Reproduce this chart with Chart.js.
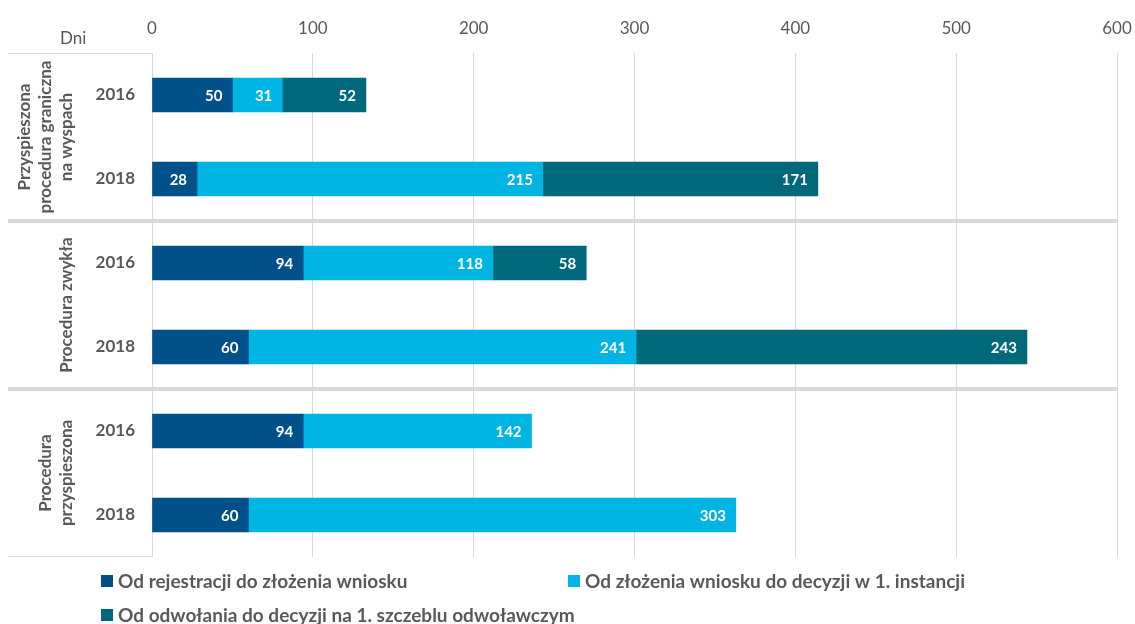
<!DOCTYPE html>
<html lang="pl">
<head>
<meta charset="utf-8">
<title>Czas trwania procedur (dni)</title>
<script src="https://cdn.jsdelivr.net/npm/chart.js@4.4.1/dist/chart.umd.min.js"></script>
<style>
  html, body { margin: 0; padding: 0; background: #ffffff; }
  #wrap { width: 1135px; height: 624px; position: relative; }
</style>
</head>
<body>
<div id="wrap"><canvas id="chart" width="1135" height="624"></canvas></div>
<script>
// Years shown for each bar, top to bottom
const years = ['2016', '2018', '2016', '2018', '2016', '2018'];

// Procedure groups (two bars each), lines of the rotated group labels
const groupLabels = [
  ['Przyspieszona', 'procedura graniczna', 'na wyspach'],
  ['Procedura zwykła'],
  ['Procedura', 'przyspieszona']
];

// Series (days)
const seriesNames = [
  'Od rejestracji do złożenia wniosku',
  'Od złożenia wniosku do decyzji w 1. instancji',
  'Od odwołania do decyzji na 1. szczeblu odwoławczym'
];
const registrationToApplication = [50, 28, 94, 60, 94, 60];
const applicationToDecision = [31, 215, 118, 241, 142, 303];
const appealToDecision = [52, 171, 58, 243, null, null];

// Axis ticks
const xTicks = [0, 100, 200, 300, 400, 500, 600];
const axisTitle = 'Dni';

const colors = ['#00518a', '#00b4e3', '#00687b'];
const textGrey = '#595959';
const lineGrey = '#d9d9d9';
const FONT = 'Lato, "Open Sans", sans-serif';

// White value labels at the right end of each segment
const valueLabels = {
  id: 'valueLabels',
  afterDatasetsDraw(chart) {
    const ctx = chart.ctx;
    ctx.save();
    ctx.font = 'bold 15px ' + FONT;
    ctx.fillStyle = '#ffffff';
    ctx.textAlign = 'right';
    ctx.textBaseline = 'middle';
    chart.data.datasets.forEach((ds, di) => {
      const meta = chart.getDatasetMeta(di);
      meta.data.forEach((bar, i) => {
        const v = ds.data[i];
        if (v === null || v === undefined) return;
        ctx.fillText(String(v), bar.x - 10, bar.y + 1);
      });
    });
    ctx.restore();
  }
};

// Group separators, category box lines, rotated group names, axis title, legend
const decorations = {
  id: 'decorations',
  beforeDatasetsDraw(chart) {
    const { ctx, chartArea } = chart;
    const y = chart.scales.y;
    const left = 8;
    ctx.save();
    // box lines of the category area
    ctx.strokeStyle = lineGrey;
    ctx.lineWidth = 1;
    ctx.beginPath();
    ctx.moveTo(left, chartArea.top + 0.5);
    ctx.lineTo(chartArea.left, chartArea.top + 0.5);
    ctx.moveTo(left, chartArea.bottom - 0.5);
    ctx.lineTo(chartArea.left, chartArea.bottom - 0.5);
    ctx.stroke();
    // thick separators between groups
    ctx.lineWidth = 4;
    for (let g = 1; g < groupLabels.length; g++) {
      const yy = (y.getPixelForValue(g * 2 - 1) + y.getPixelForValue(g * 2)) / 2;
      ctx.beginPath();
      ctx.moveTo(left, yy);
      ctx.lineTo(chartArea.right, yy);
      ctx.stroke();
    }
    ctx.restore();
  },
  afterDraw(chart) {
    const { ctx } = chart;
    const y = chart.scales.y;
    ctx.save();
    // rotated group names
    ctx.fillStyle = textGrey;
    ctx.font = 'bold 17px ' + FONT;
    ctx.textAlign = 'center';
    ctx.textBaseline = 'middle';
    const lineStep = 21;
    const lastX = 67;
    groupLabels.forEach((lines, g) => {
      const cy = (y.getPixelForValue(g * 2) + y.getPixelForValue(g * 2 + 1)) / 2;
      lines.forEach((txt, k) => {
        const x = lastX - (lines.length - 1 - k) * lineStep;
        ctx.save();
        ctx.translate(x, cy);
        ctx.rotate(-Math.PI / 2);
        ctx.fillText(txt, 0, 0);
        ctx.restore();
      });
    });
    // axis title
    ctx.font = '17px ' + FONT;
    ctx.textAlign = 'left';
    ctx.fillText(axisTitle, 60, 39);
    // legend
    ctx.font = 'bold 19px ' + FONT;
    const items = [
      { x: 101, y: 581 },
      { x: 568, y: 581 },
      { x: 101, y: 615 }
    ];
    chart.data.datasets.forEach((ds, i) => {
      const it = items[i];
      ctx.fillStyle = ds.backgroundColor;
      ctx.fillRect(it.x, it.y - 6, 12, 12);
      ctx.fillStyle = textGrey;
      ctx.textAlign = 'left';
      ctx.fillText(ds.label, it.x + 17, it.y + 1);
    });
    ctx.restore();
  }
};

new Chart(document.getElementById('chart'), {
  type: 'bar',
  data: {
    labels: years,
    datasets: [
      { label: seriesNames[0], data: registrationToApplication, backgroundColor: colors[0] },
      { label: seriesNames[1], data: applicationToDecision, backgroundColor: colors[1] },
      { label: seriesNames[2], data: appealToDecision, backgroundColor: colors[2] }
    ]
  },
  options: {
    indexAxis: 'y',
    responsive: false,
    animation: false,
    maintainAspectRatio: false,
    datasets: {
      bar: { barThickness: 34, borderWidth: 0 }
    },
    layout: { padding: { left: 8, right: 18, top: 0, bottom: 67 } },
    plugins: {
      legend: { display: false },
      tooltip: { enabled: false },
      title: { display: false }
    },
    scales: {
      x: {
        position: 'top',
        stacked: true,
        min: xTicks[0],
        max: xTicks[xTicks.length - 1],
        afterFit(scale) {
          scale.height = 53;
          scale.paddingLeft = 0;
          scale.paddingRight = 0;
        },
        afterBuildTicks(scale) { scale.ticks = xTicks.map(v => ({ value: v })); },
        grid: { color: lineGrey, lineWidth: 1, drawTicks: false },
        border: { display: false },
        ticks: {
          color: textGrey,
          font: { family: FONT, size: 17 },
          padding: 14
        }
      },
      y: {
        stacked: true,
        afterFit(scale) { scale.width = 144; },
        grid: { display: false, drawTicks: false },
        border: { display: false },
        ticks: {
          color: textGrey,
          font: { family: FONT, size: 17, weight: 'bold' },
          padding: 17
        }
      }
    }
  },
  plugins: [decorations, valueLabels]
});
</script>
</body>
</html>
